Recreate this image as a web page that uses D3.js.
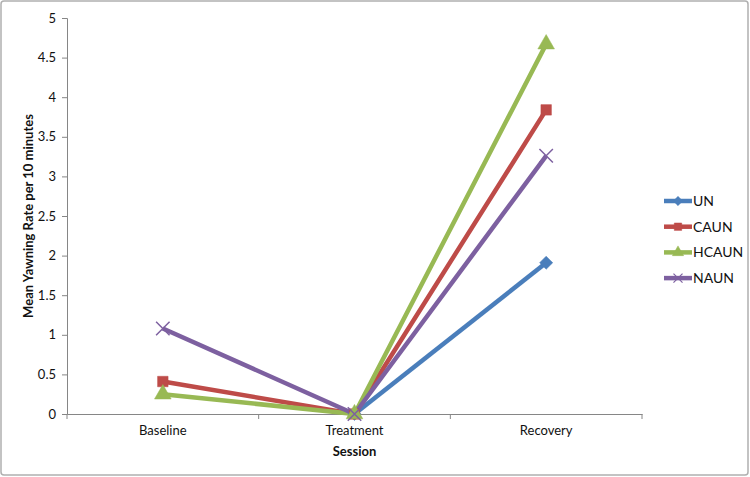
<!DOCTYPE html>
<html><head><meta charset="utf-8">
<script src="https://cdn.jsdelivr.net/npm/d3@7"></script>
<style>body{margin:0;background:#fff}svg{display:block}text{font-family:Lato,"Open Sans",sans-serif;fill:#111}</style>
</head><body><svg id="c" width="750" height="477"></svg>
<script>
const categories = ["Baseline","Treatment","Recovery"];
const seriesNames = ["UN","CAUN","HCAUN","NAUN"];
const UN = [null, 0, 1.91];
const CAUN = [0.41, 0, 3.84];
const HCAUN = [0.25, 0, 4.67];
const NAUN = [1.08, 0, 3.26];
const yTicks = [0,0.5,1,1.5,2,2.5,3,3.5,4,4.5,5];
const colors = ["#4A7EBB","#BE4B48","#98B954","#7D60A0"];
const symbols = [d3.symbolDiamond2, d3.symbolSquare, d3.symbolTriangle, d3.symbolX];
const values = [UN, CAUN, HCAUN, NAUN];

const svg = d3.select("#c");
svg.append("rect").attr("x",1).attr("y",1).attr("width",747).attr("height",474).attr("rx",3)
  .attr("fill","#fff").attr("stroke","#b0b0b0").attr("stroke-width",1.5);

const L=67,R=642,T=18,B=414;
const x = d3.scaleBand().domain(categories).range([L,R]);
const y = d3.scaleLinear().domain([0,5]).range([B,T]);

const yAx = svg.append("g").attr("transform",`translate(${L},0)`)
  .call(d3.axisLeft(y).tickValues(yTicks).tickFormat(d3.format("")).tickSize(5).tickPadding(6));
yAx.selectAll("path,line").attr("stroke","#868686");
yAx.selectAll("text").attr("font-size",13).style("font-family","Lato,sans-serif").attr("fill","#222");

const xAx = svg.append("g").attr("transform",`translate(0,${B})`)
  .call(d3.axisBottom(x).tickSize(0).tickPadding(12));
xAx.select("path").attr("stroke","#868686");
xAx.selectAll("text").attr("font-size",13).style("font-family","Lato,sans-serif").attr("fill","#222");
const bounds = categories.map(c=>x(c)).concat([x(categories[2])+x.bandwidth()]);
svg.append("g").selectAll("line").data(bounds).join("line")
  .attr("x1",d=>d).attr("x2",d=>d).attr("y1",B).attr("y2",B+5).attr("stroke","#868686");

svg.append("text").attr("x",(L+R)/2).attr("y",456).attr("text-anchor","middle")
  .attr("font-size",13).attr("font-weight","bold").text("Session");
svg.append("text").attr("transform",`translate(33,${(T+B)/2}) rotate(-90)`).attr("text-anchor","middle")
  .attr("font-size",13).attr("font-weight","bold").text("Mean Yawning Rate per 10 minutes");

const cx = c => x(c)+x.bandwidth()/2;
const line = d3.line().defined(d=>d.v!=null).x(d=>cx(d.c)).y(d=>y(d.v));
values.forEach((vals,i)=>{
  const pts = categories.map((c,j)=>({c,v:vals[j]}));
  svg.append("path").datum(pts).attr("d",line).attr("fill","none")
    .attr("stroke",colors[i]).attr("stroke-width",4.5).attr("stroke-linejoin","round");
});
const sizes = [110,110,120,120];
values.forEach((vals,i)=>{
  const pts = categories.map((c,j)=>({c,v:vals[j]})).filter(d=>d.v!=null);
  const sym = d3.symbol().type(symbols[i]).size(sizes[i]);
  svg.append("g").selectAll("path").data(pts).join("path")
    .attr("transform",d=>`translate(${cx(d.c)},${y(d.v)})`)
    .attr("d",sym())
    .attr("fill",i===3?"none":colors[i])
    .attr("stroke",colors[i]).attr("stroke-width",i===3?1.5:0.5);
});

const lg = svg.append("g");
seriesNames.forEach((n,i)=>{
  const yy = 201 + i*25.7;
  lg.append("line").attr("x1",664).attr("x2",692).attr("y1",yy).attr("y2",yy)
    .attr("stroke",colors[i]).attr("stroke-width",4.5);
  lg.append("path").attr("transform",`translate(678,${yy})`)
    .attr("d",d3.symbol().type(symbols[i]).size(55)())
    .attr("fill",i===3?"none":colors[i]).attr("stroke",colors[i]).attr("stroke-width",i===3?1.2:0.5);
  lg.append("text").attr("x",693).attr("y",yy+5).attr("font-size",14).text(n);
});
</script></body></html>
